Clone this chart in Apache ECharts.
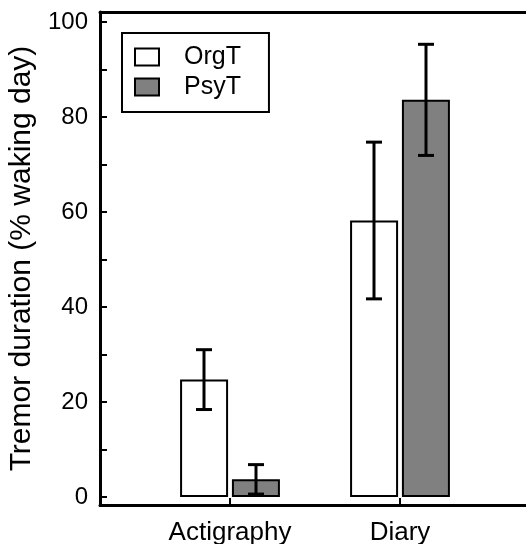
<!DOCTYPE html>
<html>
<head>
<meta charset="utf-8">
<script src="https://cdn.jsdelivr.net/npm/echarts@6/dist/echarts.min.js"></script>
<style>html,body{margin:0;padding:0;background:#fff}#c{width:526px;height:544px}</style>
</head>
<body>
<div id="c"></div>
<script>
const categories = ['Actigraphy', 'Diary'];
const orgT = [24.7, 58.2];
const orgTErr = [6.3, 16.5];
const psyT = [3.7, 83.6];
const psyTErr = [3.1, 11.7];
const yTickLabels = [0, 20, 40, 60, 80, 100];
const yTicks = [0, 10, 20, 30, 40, 50, 60, 70, 80, 90, 100];
const seriesNames = ['OrgT', 'PsyT'];

const FONT = 'Liberation Sans, Arial, sans-serif';
const BAR_W = 48;
const HALF_OFF = 26;

function errData(vals, errs) {
  return categories.map((c, i) => [i + 1, vals[i], errs[i]]);
}
function errRender(offset) {
  return function (params, api) {
    const x = api.value(0), m = api.value(1), e = api.value(2);
    const top = api.coord([x, m + e]);
    const bot = api.coord([x, m - e]);
    const cx = top[0] + offset;
    const cap = 8;
    const style = { stroke: '#000', lineWidth: 3 };
    return {
      type: 'group',
      children: [
        { type: 'line', shape: { x1: cx, y1: top[1], x2: cx, y2: bot[1] }, style },
        { type: 'line', shape: { x1: cx - cap, y1: top[1], x2: cx + cap, y2: top[1] }, style },
        { type: 'line', shape: { x1: cx - cap, y1: bot[1], x2: cx + cap, y2: bot[1] }, style }
      ]
    };
  };
}

const chart = echarts.init(document.getElementById('c'), null, { renderer: 'canvas' });
chart.setOption({
  animation: false,
  backgroundColor: '#fff',
  textStyle: { fontFamily: FONT },
  grid: {
    left: 100, right: -10, top: 12, bottom: 39,
    outerBoundsMode: 'none', containLabel: false, show: false
  },
  legend: {
    orient: 'vertical',
    left: 122, top: 33,
    itemWidth: 24, itemHeight: 17, itemGap: 2,
    padding: [10, 28, 11, 12],
    borderColor: '#000', borderWidth: 2,
    icon: 'rect',
    textStyle: { fontFamily: FONT, fontSize: 25, color: '#000', padding: [0, 0, 0, 20], lineHeight: 28 },
    data: seriesNames
  },
  xAxis: [
    {
      type: 'value',
      min: 0.2353, max: 2.8,
      splitLine: { show: false },
      axisLine: { show: true, onZero: false, lineStyle: { color: '#000', width: 3 } },
      axisTick: { show: true, inside: true, length: 7, lineStyle: { color: '#000', width: 2 }, customValues: [1, 2] },
      axisLabel: {
        customValues: [1, 2],
        formatter: v => categories[Math.round(v) - 1] || '',
        color: '#000', fontSize: 26, fontFamily: FONT, margin: 15
      }
    },
    {
      type: 'value', position: 'top',
      min: 0.2353, max: 2.8,
      splitLine: { show: false },
      axisLine: { show: true, onZero: false, lineStyle: { color: '#000', width: 3 } },
      axisTick: { show: false },
      axisLabel: { show: false }
    }
  ],
  yAxis: {
    type: 'value',
    min: -1.7, max: 102.1,
    name: 'Tremor duration (% waking day)',
    nameLocation: 'middle',
    nameGap: 53,
    nameTextStyle: { fontSize: 30, color: '#000', fontFamily: FONT },
    splitLine: { show: false },
    axisLine: { show: true, onZero: false, lineStyle: { color: '#000', width: 3 } },
    axisTick: { show: true, inside: true, length: 7, lineStyle: { color: '#000', width: 2 }, customValues: yTicks },
    axisLabel: { customValues: yTickLabels, color: '#000', fontSize: 24, fontFamily: FONT, margin: 12 }
  },
  series: [
    {
      name: seriesNames[0], type: 'bar', barWidth: BAR_W, barGap: '8%',
      itemStyle: { color: '#ffffff', borderColor: '#000', borderWidth: 2 },
      data: categories.map((c, i) => [i + 1, orgT[i]])
    },
    {
      name: seriesNames[1], type: 'bar', barWidth: BAR_W, barGap: '8%',
      itemStyle: { color: '#808080', borderColor: '#000', borderWidth: 2 },
      data: categories.map((c, i) => [i + 1, psyT[i]])
    },
    {
      type: 'custom', z: 10, renderItem: errRender(-HALF_OFF), data: errData(orgT, orgTErr),
      encode: { x: 0, y: [1] }, silent: true
    },
    {
      type: 'custom', z: 10, renderItem: errRender(HALF_OFF), data: errData(psyT, psyTErr),
      encode: { x: 0, y: [1] }, silent: true
    }
  ]
});
</script>
</body>
</html>
